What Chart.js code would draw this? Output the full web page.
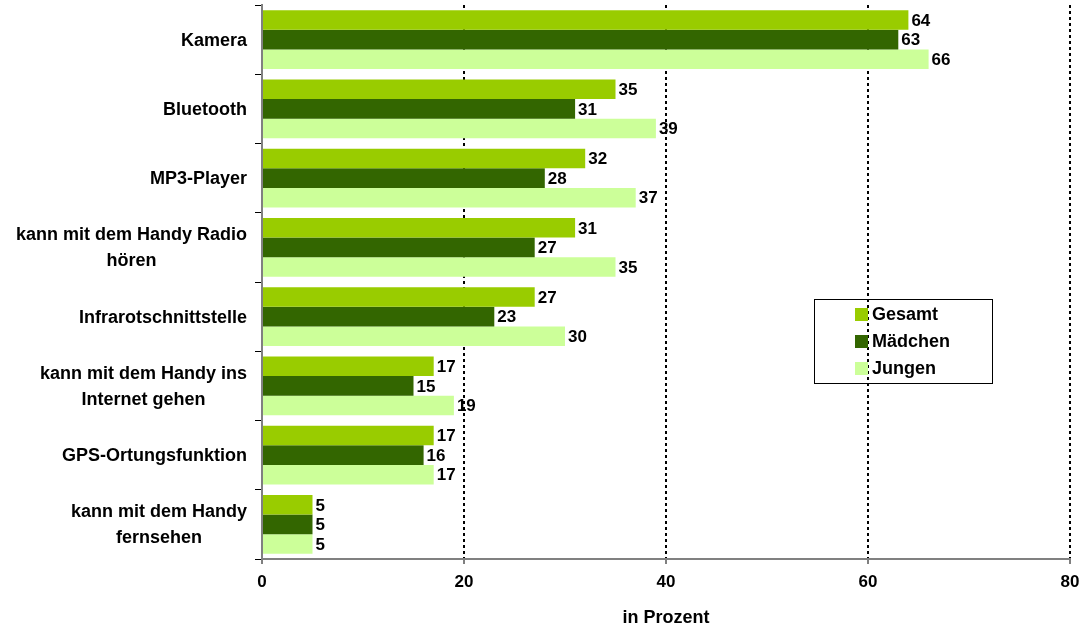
<!DOCTYPE html>
<html>
<head>
<meta charset="utf-8">
<script src="https://cdn.jsdelivr.net/npm/chart.js@4/dist/chart.umd.min.js"></script>
<style>
  html, body { margin: 0; padding: 0; background: #fff; }
  #wrap { width: 1084px; height: 629px; }
</style>
</head>
<body>
<div id="wrap"><canvas id="myChart" width="1084" height="629"></canvas></div>
<script>
const FONT = "'Liberation Sans', Arial, sans-serif";

const categories = [
    ['Kamera'],
    ['Bluetooth'],
    ['MP3-Player'],
    ['kann mit dem Handy Radio', 'hören'],
    ['Infrarotschnittstelle'],
    ['kann mit dem Handy ins', 'Internet gehen'],
    ['GPS-Ortungsfunktion'],
    ['kann mit dem Handy', 'fernsehen']
];
const gesamt = [64, 35, 32, 31, 27, 17, 17, 5];
const maedchen = [63, 31, 28, 27, 23, 15, 16, 5];
const jungen = [66, 39, 37, 35, 30, 19, 17, 5];
const xTicks = [0, 20, 40, 60, 80];

// values at bar ends
const valueLabels = {
    id: 'valueLabels',
    afterDatasetsDraw(chart) {
        const ctx = chart.ctx;
        ctx.save();
        ctx.font = 'bold 17px ' + FONT;
        ctx.fillStyle = '#000';
        ctx.textAlign = 'left';
        ctx.textBaseline = 'middle';
        chart.data.datasets.forEach((ds, i) => {
            chart.getDatasetMeta(i).data.forEach((bar, j) => {
                ctx.fillText(ds.data[j], bar.x + 3, bar.y + 1);
            });
        });
        ctx.restore();
    }
};

// category labels: block right aligned, lines centered
const catLabels = {
    id: 'catLabels',
    afterDraw(chart) {
        const ctx = chart.ctx;
        const y = chart.scales.y;
        ctx.save();
        ctx.font = 'bold 18px ' + FONT;
        ctx.fillStyle = '#000';
        ctx.textAlign = 'center';
        ctx.textBaseline = 'middle';
        const right = 247, lh = 26;
        categories.forEach((lines, i) => {
            const cy = y.getPixelForTick(i);
            const w = Math.max(...lines.map(l => ctx.measureText(l).width));
            const cx = right - w / 2;
            const top = cy - (lines.length - 1) * lh / 2 + 1;
            lines.forEach((l, k) => ctx.fillText(l, cx, top + k * lh));
        });
        ctx.restore();
    }
};

// boxed legend inside the plot
const boxLegend = {
    id: 'boxLegend',
    afterDraw(chart) {
        const ctx = chart.ctx;
        ctx.save();
        ctx.strokeStyle = '#000';
        ctx.lineWidth = 1;
        ctx.strokeRect(814.5, 299.5, 178, 84);
        ctx.font = 'bold 18px ' + FONT;
        ctx.textBaseline = 'middle';
        ctx.textAlign = 'left';
        chart.data.datasets.forEach((ds, i) => {
            const cy = 314 + i * 27;
            ctx.fillStyle = ds.backgroundColor;
            ctx.fillRect(855, cy - 6, 13, 13);
            ctx.fillStyle = '#000';
            ctx.fillText(ds.label, 872, cy + 1);
        });
        ctx.restore();
    }
};

new Chart(document.getElementById('myChart'), {
    type: 'bar',
    data: {
        labels: categories,
        datasets: [
            { label: 'Gesamt', data: gesamt, backgroundColor: '#99CC00' },
            { label: 'Mädchen', data: maedchen, backgroundColor: '#336600' },
            { label: 'Jungen', data: jungen, backgroundColor: '#CCFF99' }
        ]
    },
    options: {
        indexAxis: 'y',
        responsive: false,
        animation: false,
        layout: { padding: { top: 5, right: 14, left: 0, bottom: 0 } },
        datasets: {
            bar: { categoryPercentage: 0.845, barPercentage: 1.0 }
        },
        plugins: {
            legend: { display: false },
            tooltip: { enabled: false }
        },
        scales: {
            x: {
                min: 0,
                max: 80,
                afterBuildTicks(scale) {
                    scale.ticks = xTicks.map(v => ({ value: v }));
                },
                border: { display: true, color: '#808080', width: 2, dash: [3, 3] },
                grid: {
                    color: ctx => (ctx.tick && ctx.tick.value === 0) ? 'rgba(0,0,0,0)' : '#000',
                    lineWidth: 2,
                    drawTicks: true,
                    tickLength: 5,
                    tickColor: '#000',
                    tickWidth: 1,
                    tickBorderDash: []
                },
                ticks: {
                    color: '#000',
                    font: { family: FONT, size: 17, weight: 'bold' },
                    padding: 8
                },
                title: {
                    display: true,
                    text: 'in Prozent',
                    color: '#000',
                    font: { family: FONT, size: 18, weight: 'bold' },
                    padding: { top: 12, bottom: 0 }
                },
                afterFit(scale) {
                    scale.height = 70;
                    scale.paddingRight = 0;
                    scale.paddingLeft = 0;
                }
            },
            y: {
                border: { display: true, color: '#808080', width: 2 },
                grid: {
                    drawOnChartArea: false,
                    offset: true,
                    tickLength: 7,
                    color: '#000',
                    lineWidth: 1
                },
                ticks: { display: false },
                afterFit(scale) { scale.width = 262; }
            }
        }
    },
    plugins: [valueLabels, catLabels, boxLegend]
});
</script>
</body>
</html>
